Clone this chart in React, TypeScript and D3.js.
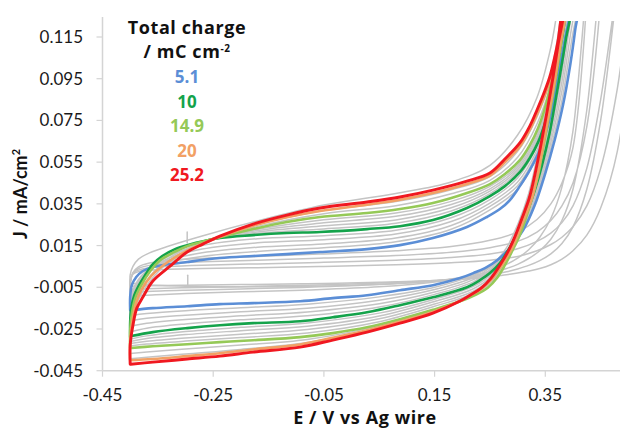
import React from 'react';
import * as d3 from 'd3';

type Pt = [number, number];

const X_TICKS = [-0.45, -0.25, -0.05, 0.15, 0.35];
const Y_TICKS = [-0.045, -0.025, -0.005, 0.015, 0.035, 0.055, 0.075, 0.095, 0.115];

const CHARGE_LABELS = ['5.1', '10', '14.9', '20', '25.2'];
const CHARGE_COLORS = ['#5b8ed6', '#14a34b', '#95c957', '#f2a064', '#f01820'];

// 5.1 mC cm-2
const BLUE_UP: Pt[] = [
  [-0.400, -0.0160], [-0.400, -0.0097], [-0.397, -0.0040], [-0.389, -0.0001], [-0.377, 0.0028],
  [-0.359, 0.0047], [-0.297, 0.0071], [-0.238, 0.0090], [-0.178, 0.0100], [-0.117, 0.0109],
  [-0.057, 0.0119], [0.028, 0.0133], [0.0875, 0.0152], [0.147, 0.0186], [0.2085, 0.0239],
  [0.2445, 0.0287], [0.268, 0.0325], [0.286, 0.0368], [0.304, 0.0435], [0.322, 0.0512],
  [0.340, 0.0608], [0.355, 0.0728], [0.367, 0.0872], [0.378, 0.1030], [0.387, 0.1160],
  [0.395, 0.1256], [0.398, 0.1300],
];
const BLUE_DOWN: Pt[] = [
  [0.409, 0.1300], [0.404, 0.1184], [0.395, 0.1016], [0.382, 0.0824], [0.367, 0.0656],
  [0.349, 0.0488], [0.331, 0.0344], [0.310, 0.0224], [0.286, 0.0138], [0.263, 0.0080],
  [0.241, 0.0042], [0.220, 0.0018], [0.196, -0.0006], [0.147, -0.0040], [0.0875, -0.0064],
  [0.028, -0.0088], [-0.034, -0.0102], [-0.093, -0.0117], [-0.178, -0.0126], [-0.238, -0.0131],
  [-0.297, -0.0141], [-0.359, -0.0150], [-0.398, -0.0160],
];

// 10 mC cm-2
const GREEN_UP: Pt[] = [
  [-0.400, -0.0289], [-0.400, -0.0217], [-0.398, -0.0150], [-0.393, -0.0092], [-0.384, -0.0040],
  [-0.373, 0.0008], [-0.359, 0.0061], [-0.342, 0.0100], [-0.319, 0.0133], [-0.297, 0.0152],
  [-0.238, 0.0186], [-0.178, 0.0200], [-0.117, 0.0210], [-0.057, 0.0215], [0.028, 0.0229],
  [0.0875, 0.0243], [0.147, 0.0272], [0.2085, 0.0330], [0.250, 0.0387], [0.277, 0.0435],
  [0.304, 0.0502], [0.322, 0.0570], [0.337, 0.0646], [0.351, 0.0752], [0.362, 0.0872],
  [0.371, 0.0992], [0.378, 0.1112], [0.384, 0.1208], [0.387, 0.1280],
];
const GREEN_DOWN: Pt[] = [
  [0.395, 0.1280], [0.387, 0.1136], [0.378, 0.0992], [0.367, 0.0824], [0.357, 0.0680],
  [0.344, 0.0536], [0.331, 0.0416], [0.317, 0.0310], [0.300, 0.0214], [0.284, 0.0133],
  [0.268, 0.0066], [0.250, 0.0018], [0.232, -0.0016], [0.2085, -0.0050], [0.147, -0.0098],
  [0.0875, -0.0136], [0.028, -0.0170], [-0.034, -0.0194], [-0.093, -0.0213], [-0.178, -0.0222],
  [-0.238, -0.0232], [-0.297, -0.0246], [-0.359, -0.0265], [-0.398, -0.0284],
];

// 14.9 mC cm-2
const LGREEN_UP: Pt[] = [
  [-0.400, -0.0341], [-0.400, -0.0256], [-0.3966, -0.0170], [-0.391, -0.0103], [-0.380, -0.0040],
  [-0.364, 0.0027], [-0.346, 0.0080], [-0.324, 0.0114], [-0.297, 0.0147], [-0.238, 0.0190],
  [-0.178, 0.0229], [-0.117, 0.0263], [-0.057, 0.0287], [0.028, 0.0306], [0.0875, 0.0325],
  [0.147, 0.0354], [0.2085, 0.0402], [0.250, 0.0445], [0.277, 0.0493], [0.304, 0.0560],
  [0.322, 0.0632], [0.337, 0.0714], [0.351, 0.0824], [0.362, 0.0944], [0.371, 0.1064],
  [0.378, 0.1174], [0.384, 0.1256],
];
const LGREEN_DOWN: Pt[] = [
  [0.387, 0.1280], [0.378, 0.1112], [0.369, 0.0958], [0.358, 0.0790], [0.347, 0.0632],
  [0.337, 0.0488], [0.326, 0.0378], [0.315, 0.0282], [0.303, 0.0195], [0.290, 0.0123],
  [0.277, 0.0056], [0.263, -0.0004], [0.246, -0.0052], [0.225, -0.0085], [0.196, -0.0117],
  [0.147, -0.0158], [0.0875, -0.0203], [0.028, -0.0242], [-0.034, -0.0270], [-0.093, -0.0289],
  [-0.178, -0.0304], [-0.238, -0.0313], [-0.297, -0.0323], [-0.359, -0.0333], [-0.398, -0.0341],
];

// 20 mC cm-2
const ORANGE_UP: Pt[] = [
  [-0.400, -0.0400], [-0.400, -0.0310], [-0.396, -0.0210], [-0.390, -0.0130], [-0.380, -0.0065],
  [-0.362, 0.0005], [-0.330, 0.0075], [-0.297, 0.0125], [-0.238, 0.0192], [-0.178, 0.0245],
  [-0.117, 0.0286], [-0.057, 0.0316], [0.028, 0.0346], [0.0875, 0.0370], [0.147, 0.0402],
  [0.2085, 0.0445], [0.250, 0.0485], [0.277, 0.0550], [0.304, 0.0625], [0.322, 0.0705],
  [0.335, 0.0780], [0.349, 0.0870], [0.358, 0.0940], [0.367, 0.1035], [0.374, 0.1115],
  [0.380, 0.1215], [0.384, 0.1290],
];
const ORANGE_DOWN: Pt[] = [
  [0.387, 0.1290], [0.377, 0.1112], [0.368, 0.0958], [0.357, 0.0790], [0.346, 0.0632],
  [0.336, 0.0488], [0.326, 0.0378], [0.3125, 0.0282], [0.2995, 0.0195], [0.287, 0.0123],
  [0.2715, 0.0056], [0.255, -0.0006], [0.236, -0.0054], [0.215, -0.0088], [0.196, -0.0116],
  [0.147, -0.0168], [0.0875, -0.0214], [0.028, -0.0256], [-0.034, -0.0292], [-0.093, -0.0324],
  [-0.178, -0.0348], [-0.238, -0.0366], [-0.297, -0.0380], [-0.359, -0.0394], [-0.400, -0.0400],
];

// 25.2 mC cm-2
const RED_UP: Pt[] = [
  [-0.400, -0.0419], [-0.400, -0.0328], [-0.395, -0.0232], [-0.388, -0.0150], [-0.377, -0.0097],
  [-0.359, -0.0020], [-0.328, 0.0051], [-0.297, 0.0119], [-0.268, 0.0158], [-0.238, 0.0195],
  [-0.178, 0.0253], [-0.117, 0.0296], [-0.057, 0.0330], [0.028, 0.0359], [0.0875, 0.0383],
  [0.147, 0.0416], [0.2085, 0.0459], [0.250, 0.0498], [0.277, 0.0565], [0.304, 0.0642],
  [0.322, 0.0723], [0.335, 0.0800], [0.349, 0.0891], [0.358, 0.0958], [0.367, 0.1054],
  [0.373, 0.1131], [0.378, 0.1232], [0.382, 0.1290],
];
const RED_DOWN: Pt[] = [
  [0.384, 0.1290], [0.373, 0.1112], [0.364, 0.0958], [0.353, 0.0790], [0.342, 0.0632],
  [0.331, 0.0488], [0.321, 0.0378], [0.308, 0.0282], [0.2955, 0.0195], [0.283, 0.0123],
  [0.268, 0.0056], [0.252, -0.0006], [0.234, -0.0054], [0.214, -0.0088], [0.196, -0.0116],
  [0.147, -0.0174], [0.0875, -0.0222], [0.028, -0.0265], [-0.034, -0.0303], [-0.093, -0.0337],
  [-0.178, -0.0361], [-0.238, -0.0380], [-0.297, -0.0394], [-0.359, -0.0409], [-0.399, -0.0419],
];

// grey cycles: shared potentials, one current list per cycle (null = off this cycle)
const GRAY_UP_E = [-0.400, -0.400, -0.395, -0.385, -0.365, -0.330, -0.270, -0.170, -0.050, 0.080,
  0.180, 0.250, 0.300, 0.335, 0.360, 0.380, 0.400, 0.425, 0.450, 0.480, 0.520];
const GRAY_LOW_E = [0.520, 0.480, 0.450, 0.425, 0.400, 0.380, 0.360, 0.340, 0.320, 0.300, 0.280,
  0.255, 0.220, 0.150, 0.050, -0.080, -0.200, -0.300, -0.370, -0.400];

const GRAY_UP: (number | null)[][] = [
  [-0.0030, 0.0010, 0.0050, 0.0085, 0.0115, 0.0148, 0.0196, 0.0268, 0.0344, 0.0400, 0.0455, 0.0535, 0.0680, 0.0860, 0.1100, 0.1400, null, null, null, null, null],
  [-0.0045, -0.0015, 0.0012, 0.0025, 0.0032, 0.0036, 0.0040, 0.0044, 0.0050, 0.0058, 0.0068, 0.0080, 0.0098, 0.0125, 0.0155, 0.0190, 0.0240, 0.0340, 0.0520, 0.0900, 0.1700],
  [-0.0060, -0.0025, 0.0015, 0.0032, 0.0043, 0.0050, 0.0056, 0.0062, 0.0070, 0.0080, 0.0093, 0.0110, 0.0135, 0.0170, 0.0210, 0.0260, 0.0340, 0.0520, 0.0850, 0.1400, null],
  [-0.0075, -0.0035, 0.0018, 0.0040, 0.0055, 0.0064, 0.0072, 0.0080, 0.0090, 0.0102, 0.0118, 0.0140, 0.0170, 0.0215, 0.0270, 0.0340, 0.0450, 0.0720, 0.1350, null, null],
  [-0.0095, -0.0045, 0.0020, 0.0048, 0.0066, 0.0078, 0.0088, 0.0098, 0.0110, 0.0125, 0.0145, 0.0175, 0.0215, 0.0275, 0.0350, 0.0450, 0.0620, 0.1350, null, null, null],
  [-0.0186, -0.0121, -0.0062, -0.0012, 0.0039, 0.0071, 0.0098, 0.0122, 0.0139, 0.0168, 0.0228, 0.0321, 0.0420, 0.0576, 0.0760, 0.1048, 0.1350, null, null, null, null],
  [-0.0212, -0.0145, -0.0074, -0.0019, 0.0039, 0.0081, 0.0115, 0.0142, 0.0158, 0.0186, 0.0246, 0.0338, 0.0437, 0.0592, 0.0778, 0.1066, 0.1350, null, null, null, null],
  [-0.0237, -0.0169, -0.0086, -0.0026, 0.0038, 0.0090, 0.0133, 0.0163, 0.0178, 0.0205, 0.0265, 0.0354, 0.0455, 0.0608, 0.0798, 0.1084, 0.1350, null, null, null, null],
  [-0.0263, -0.0193, -0.0098, -0.0033, 0.0038, 0.0100, 0.0150, 0.0183, 0.0197, 0.0223, 0.0283, 0.0370, 0.0474, 0.0626, 0.0817, 0.1102, 0.1400, null, null, null, null],
  [-0.0299, -0.0225, -0.0114, -0.0043, 0.0034, 0.0109, 0.0168, 0.0209, 0.0230, 0.0257, 0.0316, 0.0399, 0.0503, 0.0654, 0.0849, 0.1132, 0.1400, null, null, null, null],
  [-0.0310, -0.0233, -0.0118, -0.0046, 0.0031, 0.0109, 0.0169, 0.0215, 0.0245, 0.0273, 0.0331, 0.0411, 0.0513, 0.0667, 0.0862, 0.1145, 0.1400, null, null, null, null],
  [-0.0320, -0.0240, -0.0122, -0.0049, 0.0028, 0.0108, 0.0169, 0.0222, 0.0259, 0.0290, 0.0347, 0.0422, 0.0524, 0.0679, 0.0874, 0.1157, 0.1400, null, null, null, null],
  [-0.0331, -0.0248, -0.0126, -0.0052, 0.0025, 0.0108, 0.0170, 0.0228, 0.0274, 0.0306, 0.0362, 0.0434, 0.0534, 0.0692, 0.0887, 0.1170, 0.1400, null, null, null, null],
  [-0.0367, -0.0281, -0.0164, -0.0082, 0.0000, 0.0089, 0.0165, 0.0242, 0.0303, 0.0341, 0.0398, 0.0463, 0.0573, 0.0733, 0.0927, 0.1205, 0.1400, null, null, null, null],
  [-0.0393, -0.0305, -0.0198, -0.0109, -0.0023, 0.0070, 0.0160, 0.0251, 0.0318, 0.0361, 0.0418, 0.0481, 0.0602, 0.0767, 0.0953, 0.1228, 0.1400, null, null, null, null],
];
const GRAY_LOW: (number | null)[][] = [
  [null, null, null, null, null, 0.1300, 0.0950, 0.0640, 0.0400, 0.0250, 0.0140, 0.0060, 0.0010, -0.0020, -0.0035, -0.0045, -0.0048, -0.0045, -0.0038, -0.0030],
  [0.1500, 0.0600, 0.0330, 0.0200, 0.0125, 0.0085, 0.0058, 0.0040, 0.0028, 0.0018, 0.0010, 0.0002, -0.0008, -0.0018, -0.0026, -0.0033, -0.0037, -0.0040, -0.0043, -0.0045],
  [null, null, 0.0750, 0.0420, 0.0240, 0.0160, 0.0110, 0.0078, 0.0055, 0.0038, 0.0024, 0.0010, -0.0004, -0.0018, -0.0030, -0.0040, -0.0047, -0.0052, -0.0057, -0.0060],
  [null, null, 0.1450, 0.0800, 0.0420, 0.0270, 0.0180, 0.0125, 0.0088, 0.0060, 0.0040, 0.0020, 0.0000, -0.0020, -0.0037, -0.0050, -0.0058, -0.0064, -0.0070, -0.0075],
  [null, null, null, 0.1400, 0.0700, 0.0430, 0.0280, 0.0190, 0.0130, 0.0090, 0.0060, 0.0032, 0.0005, -0.0025, -0.0048, -0.0063, -0.0072, -0.0080, -0.0088, -0.0095],
  [null, null, null, 0.1500, 0.1170, 0.0845, 0.0617, 0.0433, 0.0291, 0.0193, 0.0122, 0.0059, 0.0008, -0.0050, -0.0096, -0.0131, -0.0148, -0.0162, -0.0176, -0.0186],
  [null, null, null, 0.1500, 0.1230, 0.0890, 0.0643, 0.0449, 0.0302, 0.0198, 0.0120, 0.0052, -0.0003, -0.0061, -0.0112, -0.0150, -0.0167, -0.0184, -0.0199, -0.0212],
  [null, null, null, 0.1500, 0.1290, 0.0934, 0.0670, 0.0466, 0.0312, 0.0204, 0.0119, 0.0045, -0.0013, -0.0073, -0.0129, -0.0168, -0.0187, -0.0205, -0.0223, -0.0237],
  [null, null, null, 0.1500, 0.1340, 0.0979, 0.0696, 0.0482, 0.0323, 0.0209, 0.0117, 0.0038, -0.0024, -0.0084, -0.0145, -0.0187, -0.0206, -0.0226, -0.0246, -0.0263],
  [null, null, null, null, 0.1400, 0.1048, 0.0743, 0.0505, 0.0332, 0.0207, 0.0107, 0.0019, -0.0046, -0.0107, -0.0174, -0.0221, -0.0242, -0.0262, -0.0283, -0.0299],
  [null, null, null, null, 0.1400, 0.1073, 0.0762, 0.0512, 0.0330, 0.0200, 0.0098, 0.0007, -0.0057, -0.0118, -0.0188, -0.0237, -0.0258, -0.0277, -0.0296, -0.0310],
  [null, null, null, null, 0.1400, 0.1097, 0.0782, 0.0518, 0.0329, 0.0192, 0.0089, -0.0005, -0.0069, -0.0130, -0.0201, -0.0253, -0.0275, -0.0293, -0.0309, -0.0320],
  [null, null, null, null, 0.1400, 0.1122, 0.0801, 0.0525, 0.0327, 0.0185, 0.0080, -0.0017, -0.0080, -0.0141, -0.0215, -0.0269, -0.0291, -0.0308, -0.0322, -0.0331],
  [null, null, null, null, 0.1400, 0.1180, 0.0846, 0.0556, 0.0341, 0.0194, 0.0084, -0.0018, -0.0087, -0.0159, -0.0235, -0.0300, -0.0327, -0.0346, -0.0360, -0.0367],
  [null, null, null, null, 0.1400, 0.1214, 0.0871, 0.0581, 0.0356, 0.0210, 0.0097, -0.0008, -0.0083, -0.0166, -0.0243, -0.0315, -0.0348, -0.0370, -0.0386, -0.0393],
];

// small spikes in the grey traces: [E, J from, J to]
const SPIKES: [number, number, number][] = [
  [-0.297, 0.0162, 0.0215],
  [-0.296, -0.0050, 0.0008],
];

const SERIES = [
  { up: BLUE_UP, down: BLUE_DOWN },
  { up: GREEN_UP, down: GREEN_DOWN },
  { up: LGREEN_UP, down: LGREEN_DOWN },
  { up: ORANGE_UP, down: ORANGE_DOWN },
  { up: RED_UP, down: RED_DOWN },
];

const fmt3 = (v: number) => v.toFixed(3);
const fmt2 = (v: number) => v.toFixed(2);

export default function App() {
  const x = d3.scaleLinear().domain([-0.45, 0.35]).range([102.5, 545.3]);
  const y = d3.scaleLinear().domain([-0.045, 0.115]).range([370.7, 37]);

  const line = d3
    .line<Pt>()
    .x((d) => x(d[0]))
    .y((d) => y(d[1]))
    .curve(d3.curveCatmullRom.alpha(0.5));

  const grayPaths = GRAY_UP.map((ups, i) => {
    const pts: Pt[] = [];
    ups.forEach((j, k) => {
      if (j !== null) pts.push([GRAY_UP_E[k], j]);
    });
    GRAY_LOW[i].forEach((j, k) => {
      if (j !== null) pts.push([GRAY_LOW_E[k], j]);
    });
    return line(pts) || '';
  });

  const axisColor = '#d4d4d4';
  const font = 'Lato, "Open Sans", sans-serif';
  const boldFont = '"Open Sans", Lato, sans-serif';
  const x0 = x(-0.45);
  const yBottom = y(-0.045);

  return (
    <svg
      width={620}
      height={430}
      style={{ position: 'absolute', left: 0, top: 0, background: '#fff' }}
      fontFamily={font}
    >
      <defs>
        <clipPath id="plot">
          <rect x={x0} y={21} width={620 - x0} height={yBottom - 21} />
        </clipPath>
      </defs>

      {/* axes */}
      <line x1={x0} x2={x0} y1={17} y2={yBottom} stroke={axisColor} strokeWidth={1.5} />
      <line x1={x0} x2={620} y1={yBottom} y2={yBottom} stroke={axisColor} strokeWidth={1.5} />
      {Y_TICKS.map((t) => (
        <g key={'y' + t}>
          <line x1={x0 - 6} x2={x0} y1={y(t)} y2={y(t)} stroke={axisColor} strokeWidth={1.2} />
          <text x={83} y={y(t) + 6} textAnchor="end" fontSize={17} fill="#1a1a1a">
            {fmt3(t)}
          </text>
        </g>
      ))}
      {X_TICKS.map((t) => (
        <g key={'x' + t}>
          <line x1={x(t)} x2={x(t)} y1={yBottom} y2={yBottom + 6} stroke={axisColor} strokeWidth={1.2} />
          <text x={x(t)} y={401} textAnchor="middle" fontSize={17} fill="#1a1a1a">
            {fmt2(t)}
          </text>
        </g>
      ))}

      {/* curves */}
      <g clipPath="url(#plot)" fill="none" strokeLinejoin="round" strokeLinecap="round">
        {grayPaths.map((d, i) => (
          <path key={'g' + i} d={d} stroke="#c4c4c4" strokeWidth={1.5} />
        ))}
        {SPIKES.map((s, i) => (
          <line key={'s' + i} x1={x(s[0])} x2={x(s[0])} y1={y(s[1])} y2={y(s[2])} stroke="#c4c4c4" strokeWidth={1.5} />
        ))}
        {SERIES.map((s, i) => (
          <path
            key={'c' + i}
            d={line([...s.up, ...s.down]) || ''}
            stroke={CHARGE_COLORS[i]}
            strokeWidth={i === 4 ? 2.9 : 2.6}
          />
        ))}
      </g>

      {/* legend */}
      <text x={187} y={34} textAnchor="middle" fontSize={18} fontWeight="bold" fill="#111" fontFamily={boldFont} letterSpacing={0.6}>
        Total charge
      </text>
      <text x={187} y={58} textAnchor="middle" fontSize={18} fontWeight="bold" fill="#111" fontFamily={boldFont} letterSpacing={0.6}>
        / mC cm
        <tspan dy={-6} fontSize={10}>-2</tspan>
      </text>
      {CHARGE_LABELS.map((l, i) => (
        <text key={l} x={187} y={83 + i * 24.5} textAnchor="middle" fontSize={17} fontWeight="bold" fill={CHARGE_COLORS[i]} fontFamily={boldFont}>
          {l}
        </text>
      ))}

      {/* axis titles */}
      <text
        transform={`translate(27,194) rotate(-90)`}
        textAnchor="middle"
        fontSize={18}
        fontWeight="bold"
        fill="#111"
      >
        J / mA/cm
        <tspan dy={-7} fontSize={11}>2</tspan>
      </text>
      <text x={365} y={424} textAnchor="middle" fontSize={18} fontWeight="bold" fill="#111" fontFamily={boldFont} letterSpacing={0.6}>
        E / V vs Ag wire
      </text>
    </svg>
  );
}
